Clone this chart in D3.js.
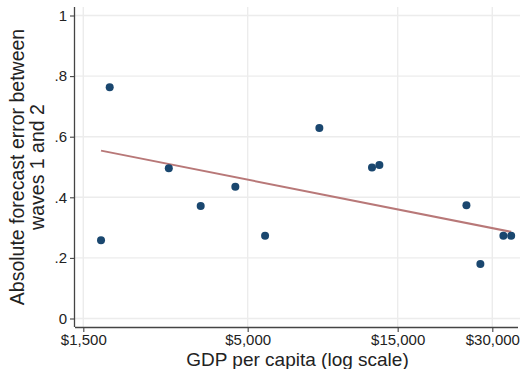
<!DOCTYPE html>
<html><head><meta charset="utf-8">
<script src="https://cdn.jsdelivr.net/npm/d3@7"></script>
<style>body{margin:0;background:#fff}svg{display:block}text{font-family:"Liberation Sans",Arial,sans-serif;fill:#222}</style>
</head><body><svg id="c" width="520" height="369"></svg>
<script>
const gdp =   [1708, 1820, 2806, 3544, 4568, 5680, 8452, 12430, 13120, 24820, 27490, 32540, 34450];
const error = [0.258, 0.763, 0.496, 0.371, 0.435, 0.273, 0.629, 0.498, 0.507, 0.374, 0.180, 0.273, 0.273];
const fitGdp = [1708, 34450];
const fitErr = [0.554, 0.286];
const xTicks = [1500, 5000, 15000, 30000];
const xTickLabels = ["$1,500", "$5,000", "$15,000", "$30,000"];
const yTicks = [0, 0.2, 0.4, 0.6, 0.8, 1];
const yTickLabels = ["0", ".2", ".4", ".6", ".8", "1"];

const svg = d3.select("#c");
const L = 75, R = 520, T = 7, B = 327;
const x = d3.scaleLog().domain([1500, 30000]).range([83.3, 492.3]);
const y = d3.scaleLinear().domain([0, 1]).range([318.5, 15.5]);

// grid
svg.append("g").selectAll("line").data(yTicks).join("line")
  .attr("x1", L).attr("x2", R).attr("y1", d => y(d)).attr("y2", d => y(d))
  .attr("stroke", "#ececec").attr("stroke-width", 1.4);
svg.append("g").selectAll("line").data(xTicks).join("line")
  .attr("y1", T).attr("y2", B).attr("x1", d => x(d)).attr("x2", d => x(d))
  .attr("stroke", "#ececec").attr("stroke-width", 1.4);

// axes
const xAxis = d3.axisBottom(x).tickValues(xTicks).tickFormat((d, i) => xTickLabels[i]).tickSize(5).tickSizeOuter(0).tickPadding(2);
const gx = svg.append("g").attr("transform", `translate(0,${B})`).call(xAxis);
gx.select(".domain").attr("d", `M${L},0.5H${518}`).attr("stroke", "#444").attr("stroke-width", 1.3);
gx.selectAll(".tick line").attr("stroke", "#444").attr("stroke-width", 1.1);
gx.selectAll(".tick text").attr("font-size", 15).attr("font-family", "Liberation Sans, Arial, sans-serif").attr("fill", "#222");

const yAxis = d3.axisLeft(y).tickValues(yTicks).tickFormat((d, i) => yTickLabels[i]).tickSize(5).tickSizeOuter(0).tickPadding(3);
const gy = svg.append("g").attr("transform", `translate(${L},0)`).call(yAxis);
gy.select(".domain").attr("d", `M-0.5,${T}V${B}`).attr("stroke", "#444").attr("stroke-width", 1.3);
gy.selectAll(".tick line").attr("stroke", "#444").attr("stroke-width", 1.1);
gy.selectAll(".tick text").attr("font-size", 15).attr("font-family", "Liberation Sans, Arial, sans-serif").attr("fill", "#222");

// fit line
const fit = fitGdp.map((g, i) => [g, fitErr[i]]);
svg.append("path").datum(fit)
  .attr("d", d3.line().x(d => x(d[0])).y(d => y(d[1])))
  .attr("fill", "none").attr("stroke", "#b87878").attr("stroke-width", 2);

// points
svg.append("g").selectAll("circle").data(gdp.map((g, i) => [g, error[i]])).join("circle")
  .attr("cx", d => x(d[0])).attr("cy", d => y(d[1])).attr("r", 4)
  .attr("fill", "#1a476f");

// titles
svg.append("text").attr("x", (L + R) / 2).attr("y", 366).attr("text-anchor", "middle")
  .attr("font-size", 19).text("GDP per capita (log scale)");
const yt = svg.append("text").attr("transform", `translate(24,${(T + B) / 2}) rotate(-90)`)
  .attr("text-anchor", "middle").attr("font-size", 19.5);
yt.append("tspan").attr("x", 0).attr("y", 0).text("Absolute forecast error between");
yt.append("tspan").attr("x", 0).attr("y", 20).text("waves 1 and 2");
</script></body></html>
